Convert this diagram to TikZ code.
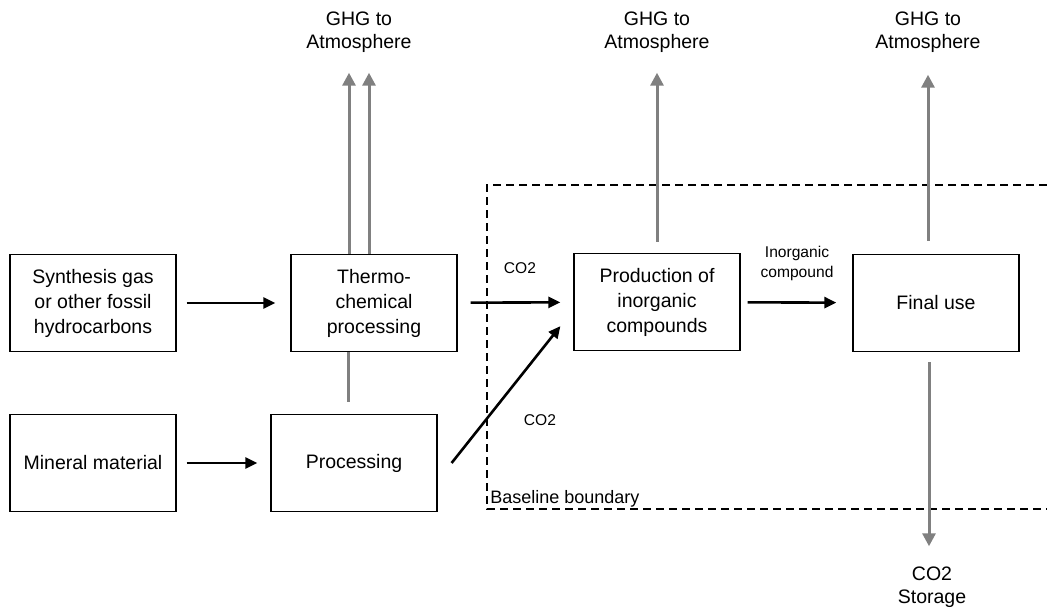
\documentclass[tikz,border=0pt]{standalone}
\usepackage{fontspec}
\setmainfont{Liberation Sans}
\usepackage{tikz}
\usetikzlibrary{arrows.meta}

\definecolor{emitgray}{RGB}{128,128,128}

\tikzset{
	procbox/.style={draw, line width=0.6pt, minimum width=83pt, minimum height=48.5pt,
		inner sep=0pt, align=center, font=\fontsize{9.75}{12.5}\selectfont},
	lbl/.style={align=center, inner sep=0pt, font=\fontsize{9.75}{11.5}\selectfont},
	small/.style={align=center, inner sep=0pt, font=\fontsize{7.8}{10}\selectfont},
	flow/.style={line width=1.3pt, -{Triangle[length=6pt,width=5.5pt]}},
	emit/.style={emitgray, line width=1.5pt, -{Triangle[length=6.5pt,width=6.5pt]}},
	boundary/.style={line width=1pt, dash pattern=on 4pt off 2.5pt}
}

\begin{document}
\begin{tikzpicture}[x=0.5pt,y=-0.5pt]
			\useasboundingbox (0,0) rectangle (1047,615);
			% boxes
			\node[procbox] (synth) at (93,303) {Synthesis gas\\or other fossil\\hydrocarbons};
			\node[procbox] (thermo) at (374,303) {Thermo-\\chemical\\processing};
			\node[procbox] (mineral) at (93,463) {Mineral material};
			\node[procbox] (proc) at (354,463) {Processing};
			\node[procbox] (prod) at (657,302) {Production of\\inorganic\\compounds};
			\node[procbox] (final) at (936,303) {Final use};
			% outside labels
			\node[lbl] (ghgA) at (359,32) {GHG to\\Atmosphere};
			\node[lbl] (ghgB) at (657,32) {GHG to\\Atmosphere};
			\node[lbl] (ghgC) at (928,32) {GHG to\\Atmosphere};
			\node[lbl] (store) at (932,587) {CO2\\Storage};
			% baseline boundary
			\draw[boundary] (1047,185) -- (487,185) -- (487,509) -- (1047,509);
			\node[anchor=base west, inner sep=0pt, font=\fontsize{9}{11}\selectfont] (bound) at (490,503) {Baseline boundary};
			% black flows
			\draw[flow, shorten <=5pt, shorten >=7.5pt] (synth) -- (thermo);
			\draw[flow, shorten <=5pt, shorten >=6.5pt] (mineral) -- (proc);
			\draw[flow, shorten <=6.5pt, shorten >=6.5pt] (thermo) -- (prod);
			\draw[flow, shorten <=3.5pt, shorten >=8pt] (prod) -- (final);
			\draw[flow] ([xshift=7pt]proc.east) -- ([xshift=-6.5pt,yshift=12.5pt]prod.south west);
			\node[small] (co2a) at (520,268) {CO2};
			\node[small] (co2b) at (540,420) {CO2};
			\node[small] (inorg) at (797,263) {Inorganic\\compound};
			% grey flows
			\draw[emit, shorten >=10pt] ([xshift=-12.5pt]thermo.north) -- ([xshift=-12.5pt]thermo.north |- ghgA.south);
			\draw[emit, shorten >=10pt] ([xshift=-2.5pt]thermo.north) -- ([xshift=-2.5pt]thermo.north |- ghgA.south);
			\draw[emitgray, line width=1.5pt, shorten <=6pt] ([xshift=-3pt]proc.north) -- ([xshift=-3pt]proc.north |- thermo.south);
			\draw[emit, shorten <=5.5pt, shorten >=10pt] (prod.north) -- (prod.north |- ghgB.south);
			\draw[emit, shorten <=6.5pt, shorten >=11pt] ([xshift=-4pt]final.north) -- ([xshift=-4pt]final.north |- ghgC.south);
			\draw[emit, shorten <=5pt, shorten >=10pt] ([xshift=-3.5pt]final.south) -- ([xshift=-3.5pt]final.south |- store.north);
		\end{tikzpicture}
\end{document}
